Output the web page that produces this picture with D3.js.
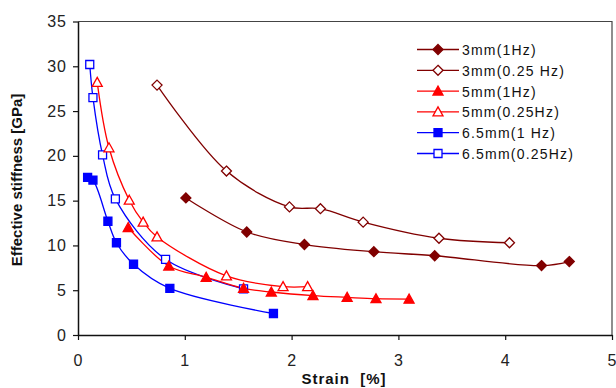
<!DOCTYPE html>
<html>
<head>
<meta charset="utf-8">
<script src="https://cdn.jsdelivr.net/npm/d3@7"></script>
<style>
  html, body { margin: 0; padding: 0; background: #fff; }
  svg { display: block; font-family: Arial, "Liberation Sans", sans-serif; }
</style>
</head>
<body>
<svg id="chart" width="616" height="388"></svg>
<script>
// series, strain [%] vs effective stiffness [GPa]
const labels = ["3mm(1Hz)", "3mm(0.25 Hz)", "5mm(1Hz)", "5mm(0.25Hz)", "6.5mm(1 Hz)", "6.5mm(0.25Hz)"];

const strain3mm1 = [1.01, 1.58, 2.12, 2.77, 3.34, 4.34, 4.60];
const stiff3mm1 = [15.3, 11.5, 10.1, 9.3, 8.85, 7.75, 8.2];

const strain3mm025 = [0.74, 1.39, 1.98, 2.27, 2.67, 3.38, 4.04];
const stiff3mm025 = [27.9, 18.3, 14.3, 14.1, 12.6, 10.8, 10.3];

const strain5mm1 = [0.47, 0.85, 1.2, 1.55, 1.81, 2.2, 2.52, 2.79, 3.1];
const stiff5mm1 = [12.0, 7.7, 6.45, 5.2, 4.8, 4.4, 4.2, 4.05, 4.0];

const strain5mm025 = [0.18, 0.29, 0.48, 0.61, 0.74, 1.39, 1.92, 2.15];
const stiff5mm025 = [28.2, 20.9, 15.05, 12.6, 10.95, 6.6, 5.4, 5.4];

const strain65mm1 = [0.09, 0.14, 0.28, 0.36, 0.52, 0.86, 1.83];
const stiff65mm1 = [17.6, 17.3, 12.7, 10.3, 7.9, 5.2, 2.4];

const strain65mm025 = [0.11, 0.14, 0.23, 0.35, 0.82, 1.55];
const stiff65mm025 = [30.2, 26.5, 20.1, 15.2, 8.45, 5.15];

const xTicks = [0, 1, 2, 3, 4, 5];
const yTicks = [0, 5, 10, 15, 20, 25, 30, 35];

const series = [
    { name: labels[0], xs: strain3mm1, ys: stiff3mm1, color: "#800000", shape: "diamond", open: false },
    { name: labels[1], xs: strain3mm025, ys: stiff3mm025, color: "#800000", shape: "diamond", open: true },
    { name: labels[2], xs: strain5mm1, ys: stiff5mm1, color: "#ff0000", shape: "triangle", open: false },
    { name: labels[3], xs: strain5mm025, ys: stiff5mm025, color: "#ff0000", shape: "triangle", open: true },
    { name: labels[4], xs: strain65mm1, ys: stiff65mm1, color: "#0000ff", shape: "square", open: false },
    { name: labels[5], xs: strain65mm025, ys: stiff65mm025, color: "#0000ff", shape: "square", open: true }
];

const svg = d3.select("#chart");

const plotLeft = 78, plotRight = 612, plotTop = 21.5, plotBottom = 335;

const x = d3.scaleLinear().domain([0, 5]).range([plotLeft, plotRight]);
const y = d3.scaleLinear().domain([0, 35]).range([plotBottom, plotTop]);

function markerPath(shape) {
    if (shape === "diamond") return "M0,-5L5,0L0,5L-5,0Z";
    if (shape === "triangle") return "M0,-5L5,4L-5,4Z";
    return "M-4,-4L4,-4L4,4L-4,4Z";
}

// plot frame (top and right)
svg.append("path")
    .attr("d", `M${plotLeft},${plotTop}H${plotRight}V${plotBottom}`)
    .attr("fill", "none")
    .attr("stroke", "#444")
    .attr("stroke-width", 1.2);

// axes
const xAxis = svg.append("g")
    .attr("transform", `translate(0,${plotBottom})`)
    .call(d3.axisBottom(x).tickValues(xTicks).tickFormat(d3.format("d"))
        .tickSize(5).tickSizeOuter(0).tickPadding(15));

const yAxis = svg.append("g")
    .attr("transform", `translate(${plotLeft},0)`)
    .call(d3.axisLeft(y).tickValues(yTicks).tickFormat(d3.format("d"))
        .tickSize(5).tickSizeOuter(0).tickPadding(6));

[xAxis, yAxis].forEach(g => {
    g.select(".domain").attr("stroke", "#111").attr("stroke-width", 1.5);
    g.selectAll(".tick line").attr("stroke", "#111").attr("stroke-width", 1.2);
    g.selectAll(".tick text")
        .attr("fill", "#222")
        .style("font-size", "16px")
        .style("letter-spacing", "1px")
        .style("font-family", "Arial, 'Liberation Sans', sans-serif");
});

// axis titles
svg.append("text")
    .attr("x", 344)
    .attr("y", 384)
    .attr("text-anchor", "middle")
    .style("font-size", "15px")
    .style("font-weight", "bold")
    .style("letter-spacing", "1px")
    .style("white-space", "pre")
    .attr("fill", "#111")
    .text("Strain  [%]");

svg.append("text")
    .attr("transform", "translate(22,180) rotate(-90)")
    .attr("text-anchor", "middle")
    .style("font-size", "15px")
    .style("font-weight", "bold")
    .attr("fill", "#111")
    .text("Effective stiffness [GPa]");

// lines and markers, drawn last series first
const line = d3.line()
    .x(d => x(d[0]))
    .y(d => y(d[1]))
    .curve(d3.curveCatmullRom.alpha(0.5));

const plot = svg.append("g");

series.slice().reverse().forEach(s => {
    const pts = s.xs.map((v, i) => [v, s.ys[i]]);
    plot.append("path")
        .datum(pts)
        .attr("d", line)
        .attr("fill", "none")
        .attr("stroke", s.color)
        .attr("stroke-width", 1.3);
});

series.slice().reverse().forEach(s => {
    const pts = s.xs.map((v, i) => [v, s.ys[i]]);
    plot.selectAll(null)
        .data(pts)
        .join("path")
        .attr("transform", d => `translate(${x(d[0])},${y(d[1])})`)
        .attr("d", markerPath(s.shape))
        .attr("fill", s.open ? "#fff" : s.color)
        .attr("stroke", s.color)
        .attr("stroke-width", 1.3);
});

// legend
const legend = svg.append("g").attr("transform", "translate(417,49.5)");
series.forEach((s, i) => {
    const row = legend.append("g").attr("transform", `translate(0,${i * 20.8})`);
    row.append("line")
        .attr("x1", 0).attr("x2", 42)
        .attr("stroke", s.color).attr("stroke-width", 1.3);
    row.append("path")
        .attr("transform", "translate(21,0)")
        .attr("d", markerPath(s.shape))
        .attr("fill", s.open ? "#fff" : s.color)
        .attr("stroke", s.color)
        .attr("stroke-width", 1.3);
    row.append("text")
        .attr("x", 45)
        .attr("y", 5.5)
        .style("font-size", "14px")
        .style("letter-spacing", "1.2px")
        .attr("fill", "#111")
        .text(s.name);
});
</script>
</body>
</html>
